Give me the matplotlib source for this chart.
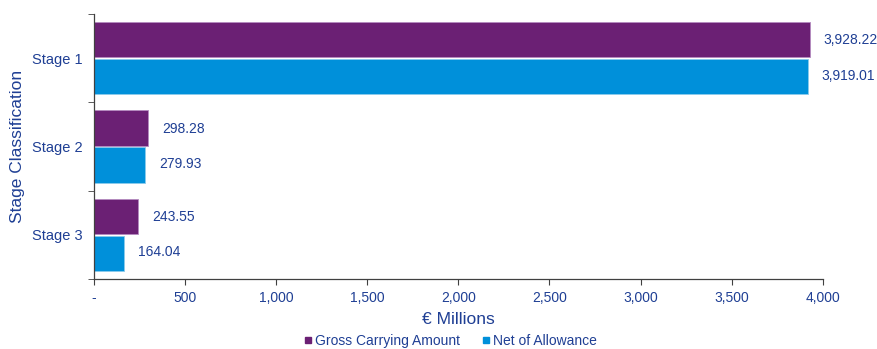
import numpy as np
import matplotlib.pyplot as plt
from matplotlib.lines import Line2D

stages = ['Stage 1', 'Stage 2', 'Stage 3']
gross = [3928.22, 298.28, 243.55]
net = [3919.01, 279.93, 164.04]
xticks = [0, 500, 1000, 1500, 2000, 2500, 3000, 3500, 4000]
xticklabels = ['-', '500', '1,000', '1,500', '2,000', '2,500', '3,000', '3,500', '4,000']

purple = '#6B2074'
blue = '#0090DA'
txt = '#1F3F94'

plt.rcParams['font.family'] = ['Liberation Sans', 'DejaVu Sans']

fig = plt.figure(figsize=(8.78, 3.49), dpi=100)
ax = fig.add_axes([0.107, 0.2006, 0.83, 0.7594])

y = np.arange(len(stages))
h = 0.4
ax.barh(y - h / 2 - 0.01, gross, height=h, color=purple, edgecolor='#B58BC0', linewidth=0.6)
ax.barh(y + h / 2 + 0.01, net, height=h, color=blue, edgecolor='#8CCBEB', linewidth=0.6)

for i in range(len(stages)):
    ax.annotate(f'{gross[i]:,.2f}', (gross[i], y[i] - h / 2), xytext=(10, 0),
                textcoords='offset points', va='center', ha='left', color=txt, fontsize=10)
    ax.annotate(f'{net[i]:,.2f}', (net[i], y[i] + h / 2), xytext=(10, 0),
                textcoords='offset points', va='center', ha='left', color=txt, fontsize=10)

ax.set_xlim(0, 4000)
ax.set_ylim(2.5, -0.5)
ax.set_xticks(xticks)
ax.set_xticklabels(xticklabels, color=txt, fontsize=10)
ax.set_yticks(y)
ax.set_yticklabels(stages, color=txt, fontsize=10.5)
ax.set_yticks([-0.5, 0.5, 1.5, 2.5], minor=True)
ax.tick_params(axis='y', which='major', length=0, pad=8)
ax.tick_params(axis='y', which='minor', length=4, direction='out', color='#404040')
ax.tick_params(axis='x', length=4, direction='out', color='#404040', pad=5)

for s in ['top', 'right']:
    ax.spines[s].set_visible(False)
for s in ['left', 'bottom']:
    ax.spines[s].set_color('#404040')
    ax.spines[s].set_linewidth(0.9)

ax.set_xlabel('€ Millions', color=txt, fontsize=12.5, labelpad=5)
ax.set_ylabel('Stage Classification', color=txt, fontsize=12.5)
ax.yaxis.set_label_coords(-0.094, 0.5)

handles = [Line2D([], [], marker='s', linestyle='', color=purple, markersize=5),
           Line2D([], [], marker='s', linestyle='', color=blue, markersize=5)]
fig.legend(handles, ['Gross Carrying Amount', 'Net of Allowance'], loc='center',
           bbox_to_anchor=(0.512, 0.024), ncol=2, frameon=False, fontsize=10,
           labelcolor=txt, handletextpad=0.1, columnspacing=1.5, handlelength=0.8)

fig.savefig('out.png', dpi=100)
